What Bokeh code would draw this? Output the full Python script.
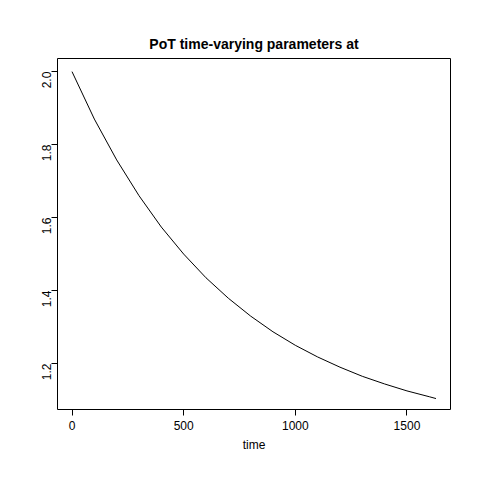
from bokeh.embed import file_html
from bokeh.resources import INLINE
from bokeh.plotting import figure
from bokeh.models import Range1d, FixedTicker
import math

time = [0, 100, 200, 300, 400, 500, 600, 700, 800, 900, 1000, 1100, 1200, 1300, 1400, 1500, 1600, 1630]
param = [2.0, 1.87, 1.758, 1.66, 1.574, 1.5, 1.435, 1.379, 1.33, 1.287, 1.25, 1.218, 1.19, 1.165, 1.144,
         1.125, 1.109, 1.104]
x_ticks = [0, 500, 1000, 1500]
y_ticks = [1.2, 1.4, 1.6, 1.8, 2.0]
y_labels = {1.2: "1.2", 1.4: "1.4", 1.6: "1.6", 1.8: "1.8", 2.0: "2.0"}

p = figure(width=464, height=464, output_backend="svg", toolbar_location=None,
           title="PoT time-varying parameters at", x_axis_label="time",
           min_border_left=57, min_border_right=14, min_border_top=58, min_border_bottom=55)
p.x_range = Range1d(-65, 1695)
p.y_range = Range1d(1.074, 2.036)
p.line(time, param, line_color="black", line_width=1)

p.title.align = "center"
p.title.text_font = "Liberation Sans"
p.title.text_font_size = "14px"
p.title.text_font_style = "bold"
p.title.text_color = "black"
p.title.offset = 0
p.title.standoff = 14
p.grid.visible = False
p.outline_line_color = "black"
p.outline_line_width = 1
p.xaxis.ticker = FixedTicker(ticks=x_ticks)
p.yaxis.ticker = FixedTicker(ticks=y_ticks)
p.yaxis.major_label_overrides = y_labels
p.yaxis.major_label_orientation = math.pi / 2
for ax in (p.xaxis, p.yaxis):
    ax.axis_line_color = None
    ax.minor_tick_line_color = None
    ax.major_tick_in = 0
    ax.major_tick_out = 6
    ax.major_tick_line_color = "black"
    ax.major_label_text_font = "Liberation Sans"
    ax.major_label_text_font_size = "12px"
    ax.major_label_text_color = "black"
    ax.axis_label_text_font = "Liberation Sans"
    ax.axis_label_text_font_size = "12px"
    ax.axis_label_text_font_style = "normal"
    ax.axis_label_text_color = "black"

open("out.html", "w").write(file_html(p, INLINE))
